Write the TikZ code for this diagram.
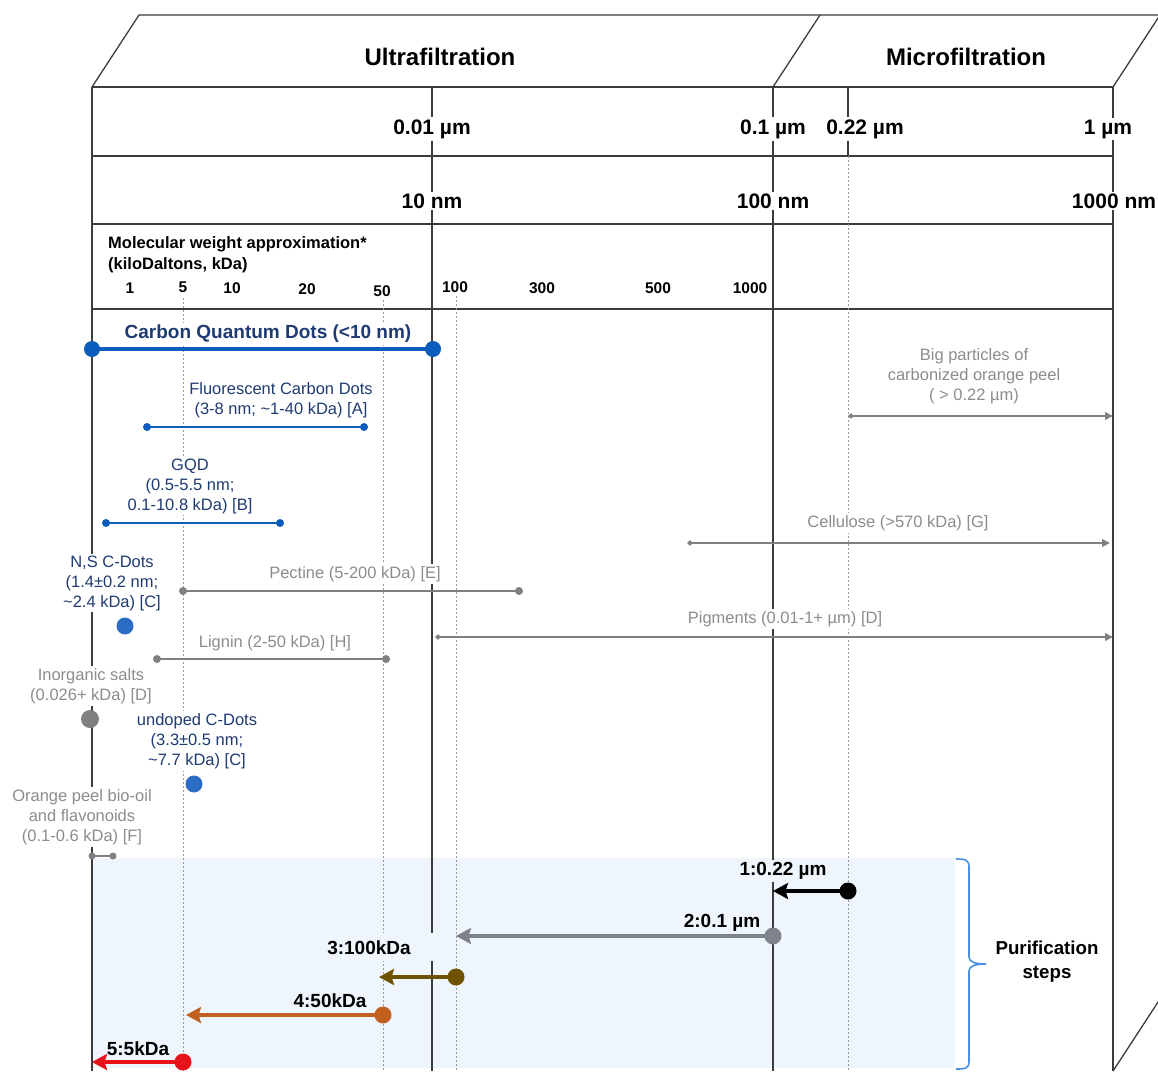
\documentclass[tikz,border=0pt]{standalone}
\usepackage{fontspec}
\setmainfont{Liberation Sans}
\usetikzlibrary{arrows.meta}
\definecolor{framec}{HTML}{3C3C3C}
\definecolor{dotc}{HTML}{9A9A9A}
\definecolor{boxfill}{HTML}{EFF5FD}
\definecolor{navy}{HTML}{1F3B73}
\definecolor{bluel}{HTML}{0B5DBB}
\definecolor{bluedot}{HTML}{2B6CC4}
\definecolor{gtext}{HTML}{8C8C8C}
\definecolor{gline}{HTML}{808080}
\definecolor{s2c}{HTML}{7D8389}
\definecolor{s3c}{HTML}{6E5200}
\definecolor{s4c}{HTML}{C1601F}
\definecolor{s5c}{HTML}{E8121B}
\definecolor{bracec}{HTML}{4A90E2}
\begin{document}
\begin{tikzpicture}[x=1pt,y=-1pt,
  frameline/.style={draw=framec,line width=1.3pt},
  dotline/.style={draw=dotc,line width=0.7pt,dash pattern=on 2pt off 2pt},
  hdr/.style={font=\fontsize{24}{28}\selectfont\bfseries,yshift=-1pt},
  unitlbl/.style={font=\fontsize{21}{25}\selectfont\bfseries,fill=white,inner sep=2pt,yshift=-2pt},
  num/.style={font=\fontsize{15.5}{18}\selectfont\bfseries,inner sep=1pt,yshift=-1pt},
  btxt/.style={text=navy,font=\fontsize{16.5}{20}\selectfont,align=center,fill=white,inner sep=2pt,yshift=-2pt},
  gtxt/.style={text=gtext,font=\fontsize{16.5}{20}\selectfont,align=center,fill=white,inner sep=2pt,yshift=-2pt},
  steptxt/.style={font=\fontsize{19}{22}\selectfont\bfseries,fill=boxfill,inner sep=2pt,yshift=-2pt},
  rangeb/.style={draw=bluel,line width=2.6pt},
  rangeg/.style={draw=gline,line width=2.4pt},
  garrow/.style={draw=gline,line width=2.6pt,{Diamond[length=6pt,width=5.5pt]}-{Triangle[length=8pt,width=7.5pt]}},
  steparrow/.style={line width=4.5pt,-{Stealth[length=15pt,width=16pt,inset=2.5pt]}},
]
\useasboundingbox (0,0) rectangle (1158,1071);

% purification box
\fill[boxfill] (92,858) rectangle (955,1068);

% frame
\draw[frameline] (92,87) -- (139,15) -- (1158,15);
\draw[frameline] (773,87) -- (820,15);
\draw[frameline] (1113,87) -- (1160,15);
\draw[frameline] (1113,1071) -- (1160,999);
\foreach \yy in {87,156,224,309} \draw[frameline] (92,\yy) -- (1113,\yy);
\draw[frameline] (92,87) -- (92,1071);
\draw[frameline] (1113,87) -- (1113,1071);
\draw[frameline] (432,87) -- (432,1071);
\draw[frameline] (773,87) -- (773,1071);
\draw[frameline] (848,87) -- (848,156);
\draw[dotline] (848,156) -- (848,1071);
\draw[dotline] (183,298) -- (183,1071);
\draw[dotline] (383,300) -- (383,1071);
\draw[dotline] (456,296) -- (456,1071);

% headers
\node[hdr] (uf) at (440,56) {Ultrafiltration};
\node[hdr] (mf) at (966,56) {Microfiltration};
\node[unitlbl] (u001) at (432,127) {0.01 µm};
\node[unitlbl] (u01) at (773,127) {0.1 µm};
\node[unitlbl] (u022) at (865,127) {0.22 µm};
\node[unitlbl] (u1) at (1108,127) {1 µm};
\node[unitlbl] (n10) at (432,199) {10 nm};
\node[unitlbl] (n100) at (773,199) {100 nm};
\node[unitlbl] (n1000) at (1114,199) {1000 nm};
\node[font=\fontsize{16.5}{21}\selectfont\bfseries,align=left,anchor=west,inner sep=0pt,yshift=-2pt] (mw) at (108,252.5) {Molecular weight approximation*\\(kiloDaltons, kDa)};
\node[num] (k1) at (130,287) {1};
\node[num] (k5) at (183,286) {5};
\node[num] (k10) at (232,287) {10};
\node[num] (k20) at (307,288) {20};
\node[num] (k50) at (382,290) {50};
\node[num] (k100) at (455,286) {100};
\node[num] (k300) at (542,287) {300};
\node[num] (k500) at (658,287) {500};
\node[num] (k1000) at (750,287) {1000};

% coordinates of ranges
\coordinate (cqdL) at (92,349); \coordinate (cqdR) at (433,349);
\coordinate (fcdL) at (147,427); \coordinate (fcdR) at (364,427);
\coordinate (gqdL) at (106,523); \coordinate (gqdR) at (280,523);
\coordinate (pecL) at (183,591); \coordinate (pecR) at (519,591);
\coordinate (ligL) at (157,659); \coordinate (ligR) at (386,659);
\coordinate (opL) at (92,856); \coordinate (opR) at (113,856);
\coordinate (bigL) at (848,416); \coordinate (bigR) at (1113,416);
\coordinate (celL) at (687,543); \coordinate (celR) at (1110,543);
\coordinate (pigL) at (435,637); \coordinate (pigR) at (1113,637);

% labels
\node[btxt,text=navy,font=\fontsize{19}{22}\selectfont\bfseries] (cqd) at (268,332) {Carbon Quantum Dots (<10 nm)};
\node[btxt] (fcd) at (281,398) {Fluorescent Carbon Dots\\(3-8 nm; \textasciitilde1-40 kDa) [A]};
\node[btxt] (gqd) at (190,484) {GQD\\(0.5-5.5 nm;\\0.1-10.8 kDa) [B]};
\node[btxt] (nsc) at (112,581) {N,S C-Dots\\(1.4±0.2 nm;\\\textasciitilde2.4 kDa) [C]};
\node[gtxt] (pec) at (355,572) {Pectine (5-200 kDa) [E]};
\node[gtxt] (big) at (974,374) {Big particles of\\carbonized orange peel\\( > 0.22 µm)};
\node[gtxt] (cel) at (898,521) {Cellulose (>570 kDa) [G]};
\node[gtxt] (pig) at (785,617) {Pigments (0.01-1+ µm) [D]};
\node[gtxt] (lig) at (275,641) {Lignin (2-50 kDa) [H]};
\node[gtxt] (ino) at (91,684) {Inorganic salts\\(0.026+ kDa) [D]};
\node[btxt] (und) at (197,739) {undoped C-Dots\\(3.3±0.5 nm;\\\textasciitilde7.7 kDa) [C]};
\node[gtxt] (orp) at (82,815) {Orange peel bio-oil\\and flavonoids\\(0.1-0.6 kDa) [F]};

% ranges
\draw[rangeb,line width=4pt] (cqdL) -- (cqdR);
\fill[bluel] (cqdL) circle (8); \fill[bluel] (cqdR) circle (8);
\draw[rangeb] (fcdL) -- (fcdR);
\fill[bluel] (fcdL) circle (4); \fill[bluel] (fcdR) circle (4);
\draw[rangeb] (gqdL) -- (gqdR);
\fill[bluel] (gqdL) circle (4); \fill[bluel] (gqdR) circle (4);
\draw[rangeg] (pecL) -- (pecR);
\fill[gline] (pecL) circle (4); \fill[gline] (pecR) circle (4);
\draw[rangeg] (ligL) -- (ligR);
\fill[gline] (ligL) circle (4); \fill[gline] (ligR) circle (4);
\draw[rangeg,line width=2pt] (opL) -- (opR);
\fill[gline] (opL) circle (3.5); \fill[gline] (opR) circle (3.5);
\draw[garrow] (bigL) -- (bigR);
\draw[garrow] (celL) -- (celR);
\draw[garrow] (pigL) -- (pigR);

% single points
\coordinate (nsdot) at (125,626);
\coordinate (inodot) at (90,719);
\coordinate (unddot) at (194,784);
\fill[bluedot] (nsdot) circle (8.5);
\fill[gline] (inodot) circle (9);
\fill[bluedot] (unddot) circle (8.5);

% purification steps
\fill[boxfill] (320,933) rectangle (440,961);
\node[steptxt] (l1) at (783,869) {1:0.22 µm};
\node[steptxt] (l2) at (722,921) {2:0.1 µm};
\node[steptxt] (l3) at (369,946) {3:100kDa};
\node[steptxt] (l4) at (330,999) {4:50kDa};
\node[steptxt] (l5) at (138,1047) {5:5kDa};
\coordinate (s1a) at (848,891); \coordinate (s1b) at (773,891);
\coordinate (s2a) at (773,936); \coordinate (s2b) at (456,936);
\coordinate (s3a) at (456,977); \coordinate (s3b) at (379,977);
\coordinate (s4a) at (383,1015); \coordinate (s4b) at (186,1015);
\coordinate (s5a) at (183,1062); \coordinate (s5b) at (92,1062);
\draw[steparrow,draw=black,fill=black] (s1a) -- (s1b); \fill[black] (s1a) circle (8.5);
\draw[steparrow,draw=s2c,fill=s2c] (s2a) -- (s2b); \fill[s2c] (s2a) circle (8.5);
\draw[steparrow,draw=s3c,fill=s3c] (s3a) -- (s3b); \fill[s3c] (s3a) circle (8.5);
\draw[steparrow,draw=s4c,fill=s4c] (s4a) -- (s4b); \fill[s4c] (s4a) circle (8.5);
\draw[steparrow,draw=s5c,fill=s5c] (s5a) -- (s5b); \fill[s5c] (s5a) circle (8.5);

% brace
\coordinate (brTop) at (956,859);
\coordinate (brTip) at (986,964);
\coordinate (brBot) at (956,1069);
\draw[bracec,line width=1.6pt] (brTop) .. controls (966,859) and (969,860) .. (969,867) -- (969,957) .. controls (969,962) and (975,964) .. (brTip) .. controls (975,964) and (969,966) .. (969,971) -- (969,1062) .. controls (969,1068) and (966,1069) .. (brBot);
\node[font=\fontsize{18.7}{24}\selectfont\bfseries,align=center,yshift=-2pt] (pur) at (1047,960) {Purification\\steps};
\end{tikzpicture}
\end{document}
